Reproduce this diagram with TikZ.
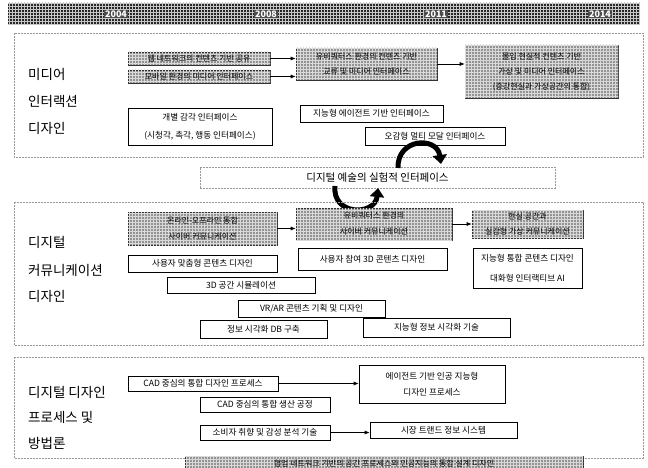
\documentclass[tikz,border=0pt]{standalone}
\usepackage{fontspec}
\setmainfont{Noto Sans CJK KR}
\usetikzlibrary{patterns,arrows.meta}
\begin{document}
\begin{tikzpicture}[x=1pt,y=-1pt,
  sect/.style={draw=gray!80, line width=0.5pt, dash pattern=on 2pt off 1pt},
  wbox/.style={draw=black, line width=0.6pt, fill=white, inner sep=0pt, align=center,
     font=\fontsize{8.6}{17}\selectfont},
  gbox/.style={draw=black!80, line width=0.6pt, fill=gray!85, inner sep=0pt, align=center,
     postaction={pattern=grid, pattern color=gray!30},
     font=\fontsize{8}{15}\selectfont},
  ttl/.style={anchor=west, inner sep=0pt, font=\fontsize{13.5}{15}\selectfont},
  yr/.style={text=white, fill=black!70, inner sep=1pt, font=\bfseries\fontsize{9}{10}\selectfont},
  arr/.style={line width=0.6pt, -{Latex[length=5pt,width=4pt]}},
  bigarr/.style={line width=5pt, -{Triangle[length=9pt,width=14pt]}}
]
\useasboundingbox (0,0) rectangle (648,468);
\fill[white] (0,0) rectangle (648,468);

% header
\fill[black!85, postaction={pattern=grid, pattern color=gray!45}] (8,3) rectangle (640,25);
\node[yr] (y1) at (116,14) {2004};
\node[yr] (y2) at (266,14) {2008};
\node[yr] (y3) at (436,14) {2011};
\node[yr] (y4) at (600,14) {2014};

% section 1
\draw[sect] (14,33) rectangle (643,157);
\node[ttl] (t11) at (28,74) {미디어};
\node[ttl] (t12) at (28,101) {인터랙션};
\node[ttl] (t13) at (28,128) {디자인};

\node[gbox, minimum width=142, minimum height=13] (A1) at (199,58.5) {웹 네트워크의 컨텐츠 기반 공유};
\node[gbox, minimum width=142, minimum height=13] (A2) at (199,76.5) {모바일 환경의 미디어 인터페이스};
\node[gbox, minimum width=141, minimum height=32] (B) at (366.5,64) {유비쿼터스 환경의 컨텐츠 기반\\교류 및 미디어 인터페이스};
\node[gbox, minimum width=153, minimum height=53] (C) at (541.5,71.5) {몰입 현실적 컨텐츠 기반\\가상 및 미디어 인터페이스\\(증강현실과 가상공간의 통합)};

\draw[arr] (A1.east) -- (A1.east -| B.west);
\draw[arr] (A2.east) -- (A2.east -| B.west);
\draw[arr] (B.east) -- (B.east -| C.west);

\node[wbox, minimum width=144, minimum height=37, font=\fontsize{8.6}{18}\selectfont] (W1) at (200,126.5) {개별 감각 인터페이스\\(시청각, 촉각, 행동 인터페이스)};
\node[wbox, minimum width=143, minimum height=17] (W2) at (371.5,113.5) {지능형 에이전트 기반 인터페이스};
\node[wbox, minimum width=140, minimum height=18] (W3) at (435,136) {오감형 멀티 모달 인터페이스};

% middle
\node[sect, minimum width=355, minimum height=21, inner sep=0pt,
  font=\fontsize{10.5}{12}\selectfont] (E) at (377.5,177.5) {디지털 예술의 실험적 인터페이스};
\coordinate (u1) at (398,168);
\coordinate (u2) at (441,164);
\coordinate (l1) at (335,186);
\coordinate (l2) at (378,188);
\draw[bigarr] (u1) .. controls (397,138) and (437,136) .. (u2);
\draw[bigarr] (l1) .. controls (332,216) and (375,216) .. (l2);

% section 2
\draw[sect] (14,202) rectangle (643,345);
\node[ttl] (t21) at (28,242) {디지털};
\node[ttl] (t22) at (28,270) {커뮤니케이션};
\node[ttl] (t23) at (28,296) {디자인};

\node[gbox, minimum width=149, minimum height=33, font=\fontsize{8}{16}\selectfont] (D1) at (202.5,228.5) {온라인-오프라인 통합\\사이버 커뮤니케이션};
\node[gbox, minimum width=156, minimum height=32, font=\fontsize{8}{16}\selectfont] (D2) at (374,224) {유비쿼터스 환경의\\사이버 커뮤니케이션};
\node[gbox, minimum width=111, minimum height=28] (D3) at (527.5,224) {현실 공간과\\실감형 가상 커뮤니케이션};
\draw[arr] (D1.east) -- (D1.east -| D2.west);
\draw[arr] (D2.east) -- (D2.east -| D3.west);

\node[wbox, minimum width=149, minimum height=17] (S1) at (202.5,263.5) {사용자 맞춤형 콘텐츠 디자인};
\node[wbox, minimum width=149, minimum height=22] (S2) at (372.5,259) {사용자 참여 3D 콘텐츠 디자인};
\node[wbox, minimum width=109, minimum height=40, font=\fontsize{8.6}{20}\selectfont] (S3) at (527.5,268) {지능형 통합 콘텐츠 디자인\\대화형 인터랙티브 AI};
\node[wbox, minimum width=148, minimum height=16] (S4) at (241,285) {3D 공간 시뮬레이션};
\node[wbox, minimum width=147, minimum height=17] (S5) at (311.5,308.5) {VR/AR 콘텐츠 기획 및 디자인};
\node[wbox, minimum width=127, minimum height=18] (S6) at (263.5,329) {정보 시각화 DB 구축};
\node[wbox, minimum width=147, minimum height=19] (S7) at (436.5,327.5) {지능형 정보 시각화 기술};

% section 3
\draw[sect] (14,357) rectangle (643,458);
\node[ttl] (t31) at (28,392) {디지털 디자인};
\node[ttl] (t32) at (28,417) {프로세스 및};
\node[ttl] (t33) at (28,443) {방법론};

\node[wbox, minimum width=150, minimum height=15] (P1) at (203,383.5) {CAD 중심의 통합 디자인 프로세스};
\node[wbox, minimum width=146, minimum height=38, font=\fontsize{8.6}{16}\selectfont] (P2) at (432,384) {에이전트 기반 인공 지능형\\디자인 프로세스};
\node[wbox, minimum width=130, minimum height=15] (P3) at (265,404.5) {CAD 중심의 통합 생산 공정};
\node[wbox, minimum width=130, minimum height=15] (P4) at (265,432.5) {소비자 취향 및 감성 분석 기술};
\node[wbox, minimum width=147, minimum height=16] (P5) at (443.5,430) {시장 트랜드 정보 시스템};
\draw[arr] (P1.east) -- (P1.east -| P2.west);
\draw[arr] (P4.east) -- (P4.east -| P5.west);

\node[gbox, minimum width=398, minimum height=15] (G) at (384,463.5) {협업 네트워크 기반의 공간 프로세스와 인공지능의 통합 설계 디자인};
\end{tikzpicture}
\end{document}
